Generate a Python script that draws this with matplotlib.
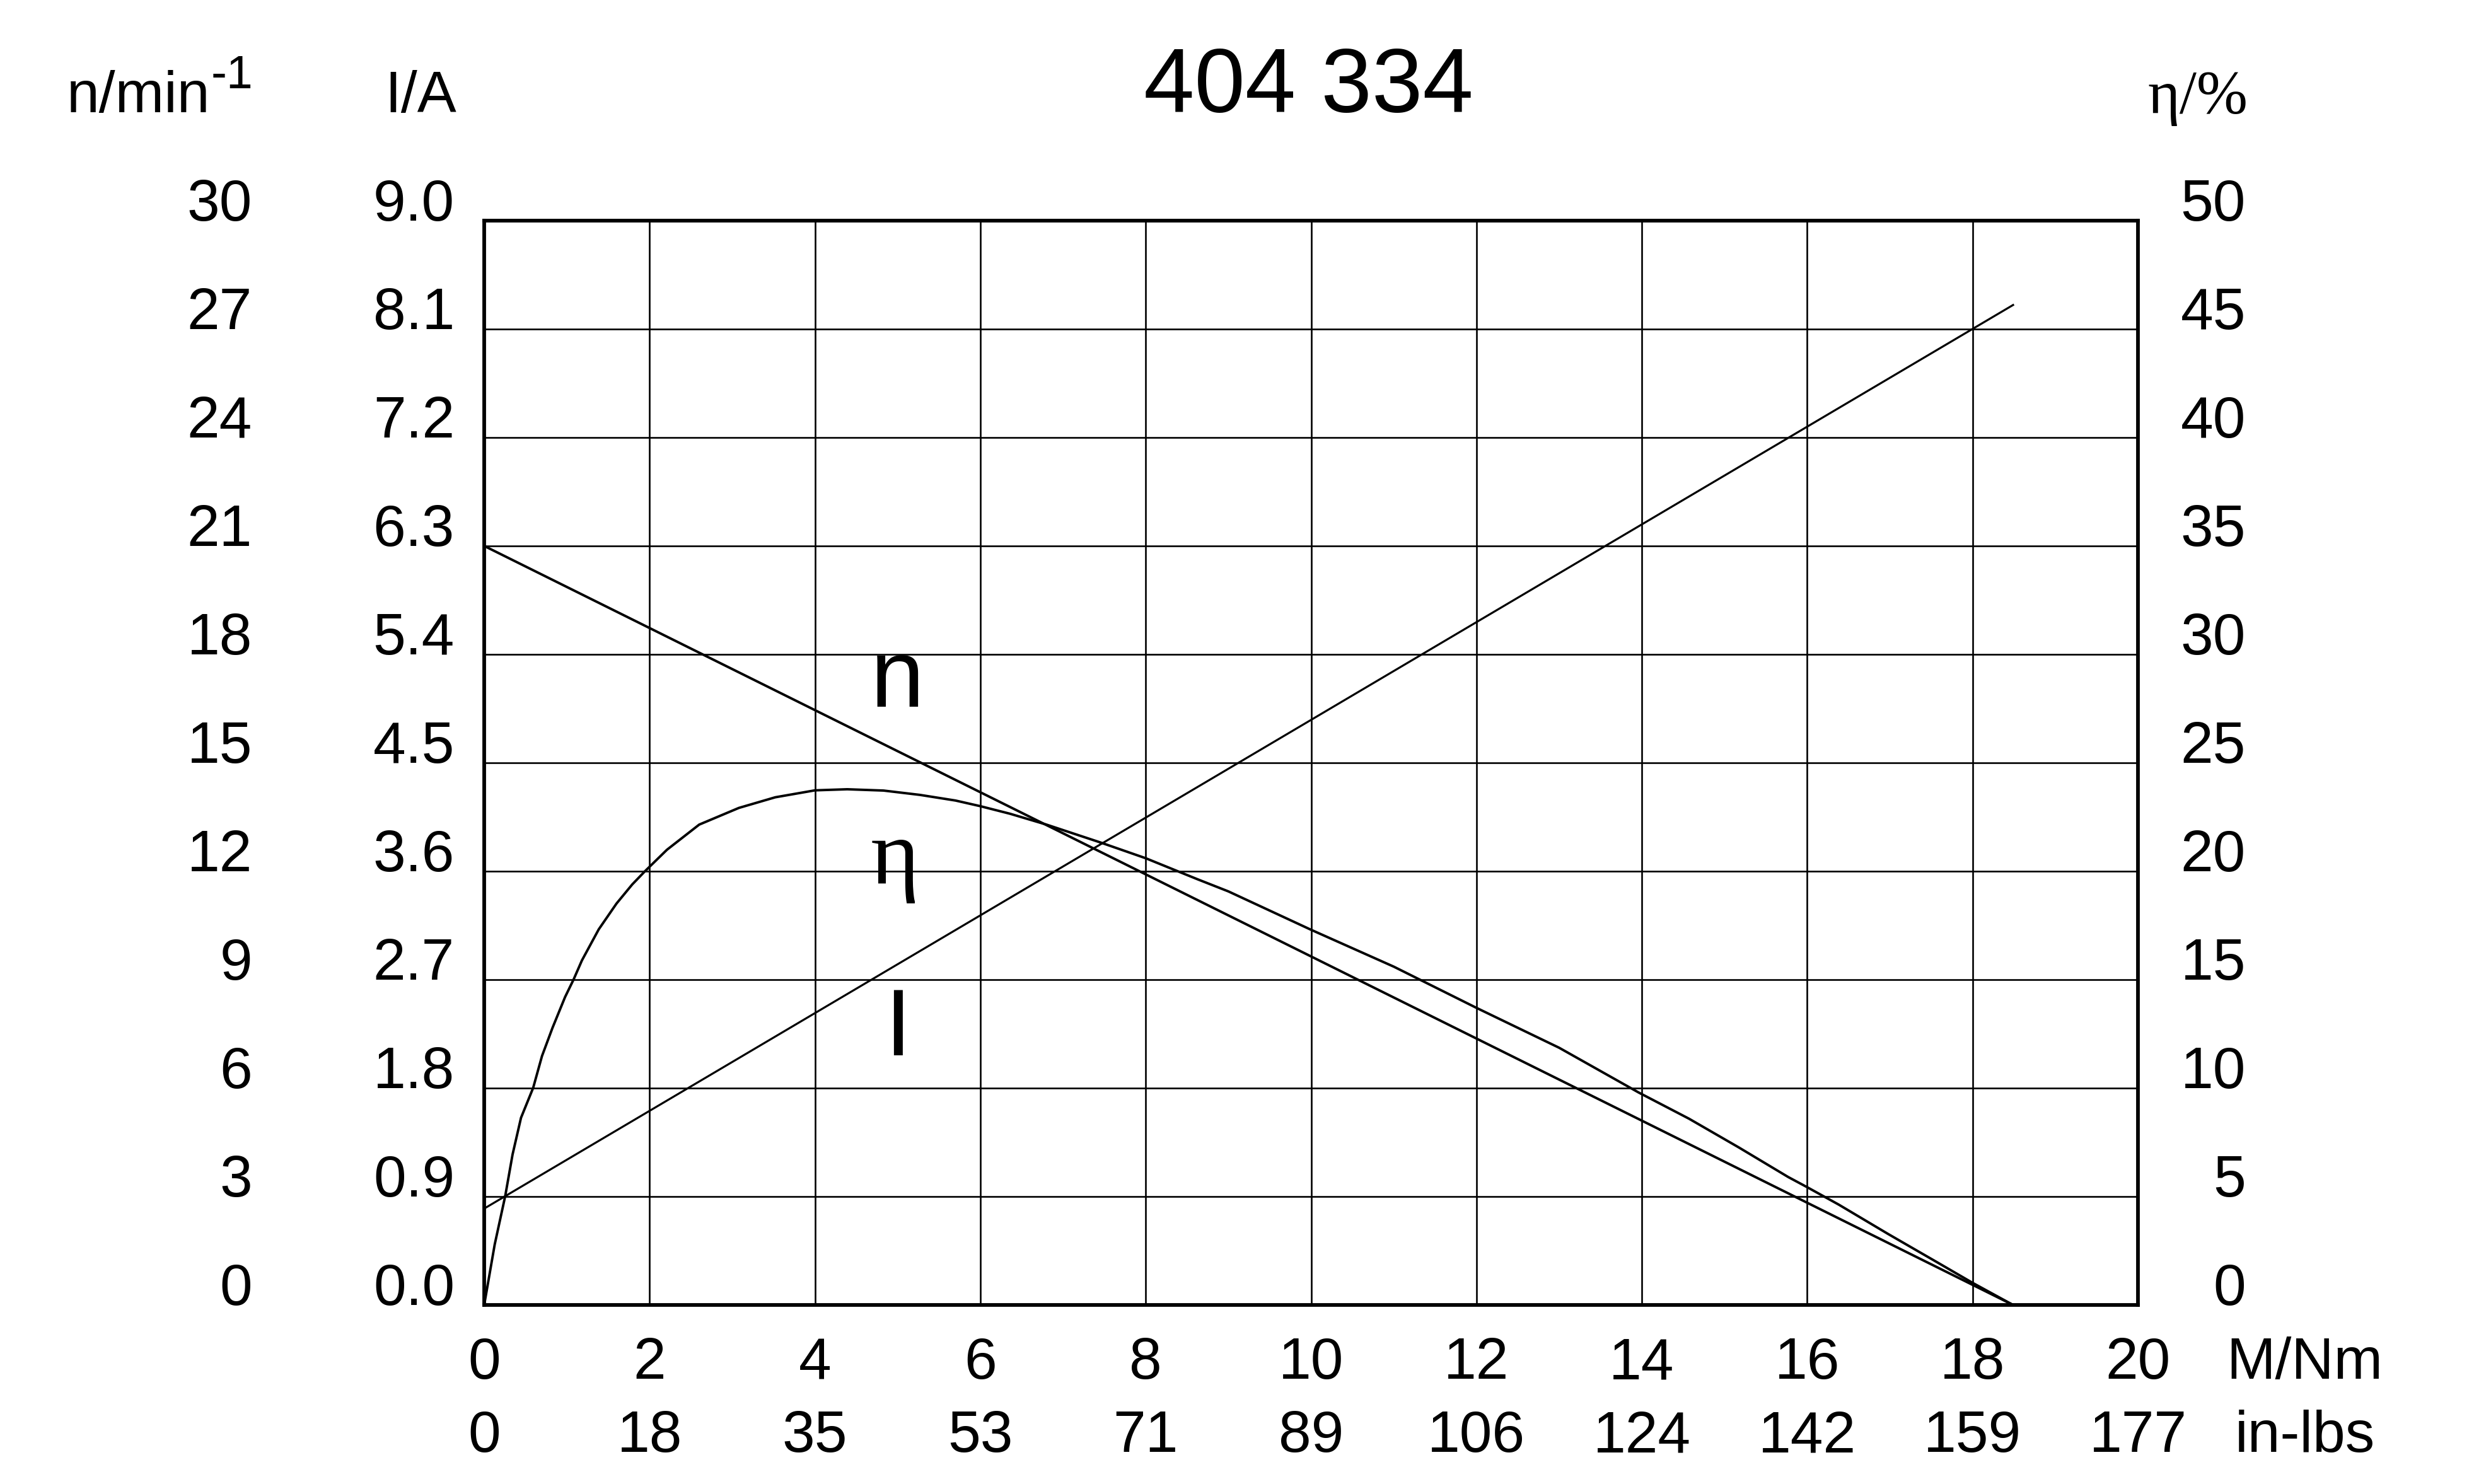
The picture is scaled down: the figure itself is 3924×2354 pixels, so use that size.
import matplotlib
matplotlib.use("Agg")
import matplotlib.pyplot as plt
from matplotlib.transforms import blended_transform_factory as btf

# ---- data ----
torque_ticks = [0, 2, 4, 6, 8, 10, 12, 14, 16, 18, 20]
inlbs_labels = ["0", "18", "35", "53", "71", "89", "106", "124", "142", "159", "177"]
n_labels = ["0", "3", "6", "9", "12", "15", "18", "21", "24", "27", "30"]
i_labels = ["0.0", "0.9", "1.8", "2.7", "3.6", "4.5", "5.4", "6.3", "7.2", "8.1", "9.0"]
eta_labels = ["0", "5", "10", "15", "20", "25", "30", "35", "40", "45", "50"]

speed_torque = [0, 18.49]
speed = [21, 0]
current_torque = [0, 18.49]
current = [0.8, 8.3]
eta_torque = [0, 0.127, 0.254, 0.343, 0.445, 0.592, 0.699, 0.826, 0.978, 1.08,
              1.182, 1.385, 1.60, 1.79, 1.944, 2.21, 2.60, 3.08, 3.52, 4.0,
              4.39, 4.83, 5.27, 5.70, 6.0, 6.36, 6.80, 7.45, 8.0, 8.62,
              9.0, 10.0, 11.0, 12.0, 13.0, 13.96, 14.57, 15.17, 15.77, 16.0,
              16.38, 16.98, 17.58, 18.0, 18.49]
eta = [0, 2.79, 5.02, 6.94, 8.63, 10.01, 11.48, 12.78, 14.2, 15.0,
       15.89, 17.32, 18.51, 19.39, 20.0, 20.99, 22.15, 22.92, 23.41, 23.73,
       23.78, 23.72, 23.52, 23.26, 23.0, 22.65, 22.15, 21.33, 20.6, 19.64,
       19.07, 17.3, 15.6, 13.7, 11.86, 9.8, 8.59, 7.27, 5.90, 5.43,
       4.63, 3.27, 1.95, 1.02, 0]

SANS = ["Liberation Sans", "DejaVu Sans"]
SERIF = ["Liberation Serif", "DejaVu Serif"]
plt.rcParams["font.family"] = SANS

W, H = 3924, 2354
fig = plt.figure(figsize=(W / 100, H / 100), dpi=100)
L, R, T, B = 768, 3391, 350, 2070
ax = fig.add_axes([L / W, 1 - B / H, (R - L) / W, (B - T) / H])
ax.set_xlim(0, 20)
ax.set_ylim(0, 50)
ax.set_xticks(torque_ticks)
ax.set_yticks(range(0, 51, 5))
ax.grid(True, color="black", lw=1.9)
ax.tick_params(length=0, labelleft=False, labelbottom=False)
for s in ax.spines.values():
    s.set_linewidth(4.2)
    s.set_zorder(5)

ax_n = ax.twinx()
ax_n.set_ylim(0, 30)
ax_n.axis("off")
ax_i = ax.twinx()
ax_i.set_ylim(0, 9)
ax_i.axis("off")

ax.plot(eta_torque, eta, color="black", lw=2.8, solid_joinstyle="round")
ax_n.plot(speed_torque, speed, color="black", lw=2.8)
ax_i.plot(current_torque, current, color="black", lw=2.3)

# curve labels
ax.text(5.0, 27.6, "n", fontsize=110, ha="center", va="baseline")
ax.text(4.97, 19.45, "η", fontsize=107, ha="center", va="baseline", family=SERIF)
ax.text(5.0, 11.5, "I", fontsize=108, ha="center", va="baseline")

FS = 67
tr_y = btf(fig.transFigure, ax.transData)
for k in range(11):
    yv = k * 5
    ax.text(400 / W, yv, n_labels[k], transform=tr_y, fontsize=FS, ha="right", va="baseline")
    ax.text(721 / W, yv, i_labels[k], transform=tr_y, fontsize=FS, ha="right", va="baseline")
    ax.text(3562 / W, yv, eta_labels[k], transform=tr_y, fontsize=FS, ha="right", va="baseline")

tr_x = btf(ax.transData, fig.transFigure)
for k, xv in enumerate(torque_ticks):
    ax.text(xv, 1 - 2187 / H, str(xv), transform=tr_x, fontsize=FS, ha="center", va="baseline")
    ax.text(xv, 1 - 2303 / H, inlbs_labels[k], transform=tr_x, fontsize=FS, ha="center", va="baseline")

fig.text(3531 / W, 1 - 2187 / H, "M/Nm", fontsize=FS, ha="left", va="baseline")
fig.text(3545 / W, 1 - 2303 / H, "in-lbs", fontsize=FS, ha="left", va="baseline")

# headers
yb = 1 - 178 / H
fig.text(333 / W, yb, "n/min", fontsize=FS, ha="right", va="baseline")
fig.text(335 / W, 1 - 140 / H, "-1", fontsize=54, ha="left", va="baseline")
fig.text(724 / W, yb, "I/A", fontsize=FS, ha="right", va="baseline")
fig.text(2075 / W, yb, "404 334", fontsize=104, ha="center", va="baseline")
fig.text(3565 / W, 1 - 179 / H, "η/%", fontsize=70, ha="right", va="baseline", family=SERIF)

fig.savefig("out.png", dpi=100, facecolor="white")
